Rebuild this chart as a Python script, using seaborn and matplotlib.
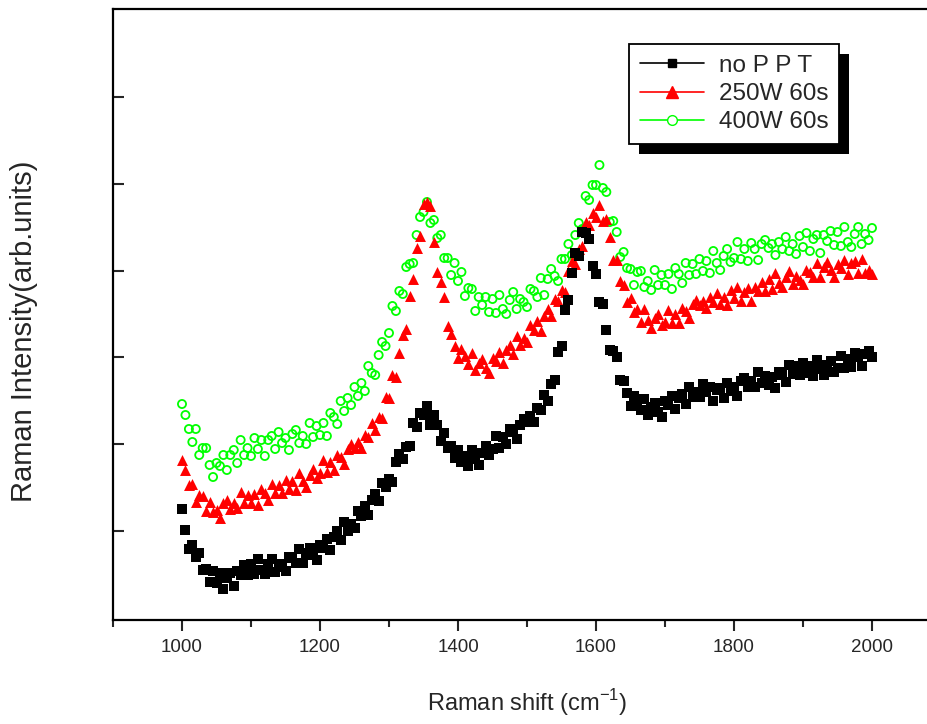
import matplotlib
matplotlib.use("Agg")
import numpy as np
import pandas as pd
import matplotlib.pyplot as plt
import seaborn as sns
from matplotlib.lines import Line2D
from matplotlib.patches import Rectangle
from matplotlib.ticker import MultipleLocator

# Raman shift axis, 5 cm-1 step
shift = list(range(1000, 2001, 5))

# intensities (arb. units)
no_ppt = [111, 90, 71, 75, 63, 67, 50, 51, 38, 49,
          37, 47, 31, 42, 47, 34, 49, 45, 55, 45,
          56, 46, 61, 50, 46, 56, 61, 48, 56, 53,
          49, 63, 62, 57, 71, 57, 67, 72, 65, 60,
          75, 72, 81, 70, 83, 89, 80, 98, 89, 96,
          92, 109, 104, 114, 105, 120, 126, 119, 137, 133,
          141, 138, 158, 166, 161, 173, 174, 197, 193, 207,
          205, 214, 195, 205, 195, 179, 187, 172, 174, 162,
          170, 158, 164, 154, 170, 161, 155, 167, 174, 165,
          171, 184, 172, 183, 176, 191, 188, 181, 195, 201,
          198, 204, 198, 212, 210, 225, 219, 236, 240, 268,
          274, 310, 320, 347, 367, 364, 388, 387, 381, 354,
          346, 318, 316, 290, 270, 269, 263, 240, 239, 227,
          214, 224, 218, 210, 221, 205, 213, 217, 208, 203,
          219, 215, 224, 211, 222, 226, 216, 233, 223, 228,
          223, 236, 228, 233, 219, 230, 232, 222, 237, 229,
          233, 224, 239, 242, 233, 239, 233, 248, 237, 244,
          235, 243, 232, 248, 245, 238, 255, 246, 254, 245,
          257, 247, 254, 244, 260, 251, 245, 255, 259, 248,
          252, 264, 252, 261, 253, 267, 263, 254, 266, 269,
          263]

w250_60s = [160, 150, 135, 136, 118, 125, 124, 109, 118, 108,
            110, 102, 117, 120, 111, 117, 112, 128, 117, 125,
            117, 126, 115, 131, 127, 120, 136, 127, 135, 127,
            140, 131, 139, 130, 147, 139, 133, 145, 151, 142,
            147, 160, 148, 158, 150, 165, 163, 156, 171, 176,
            172, 178, 172, 185, 183, 197, 190, 203, 202, 223,
            222, 245, 243, 267, 285, 291, 324, 341, 372, 384,
            416, 418, 414, 378, 348, 338, 323, 294, 286, 274,
            262, 271, 264, 256, 267, 250, 257, 261, 252, 247,
            262, 259, 268, 257, 270, 275, 266, 284, 275, 282,
            278, 295, 290, 299, 289, 304, 311, 304, 321, 319,
            330, 328, 349, 359, 356, 371, 374, 398, 395, 407,
            403, 415, 399, 401, 383, 360, 360, 339, 335, 318,
            322, 308, 311, 298, 311, 300, 292, 302, 306, 295,
            298, 310, 297, 306, 297, 312, 309, 302, 316, 320,
            315, 319, 312, 323, 318, 327, 316, 323, 315, 330,
            322, 333, 319, 328, 332, 319, 333, 329, 338, 329,
            341, 331, 347, 337, 333, 343, 349, 336, 344, 340,
            336, 350, 348, 343, 357, 343, 353, 358, 350, 343,
            356, 352, 360, 346, 357, 359, 347, 361, 347, 350,
            346]

w400_60s = [216, 205, 191, 178, 191, 165, 172, 172, 155, 143,
            157, 154, 165, 150, 165, 170, 157, 180, 165, 172,
            164, 182, 171, 180, 164, 180, 184, 171, 188, 177,
            182, 170, 186, 190, 177, 184, 176, 197, 183, 194,
            185, 197, 184, 207, 203, 196, 219, 209, 222, 215,
            233, 224, 237, 229, 254, 247, 245, 265, 278, 274,
            287, 314, 309, 329, 326, 353, 356, 357, 385, 403,
            408, 418, 397, 400, 382, 385, 362, 362, 345, 357,
            339, 348, 324, 332, 331, 309, 323, 315, 323, 308,
            321, 307, 325, 311, 306, 320, 328, 311, 321, 318,
            313, 331, 329, 323, 342, 325, 341, 351, 344, 339,
            361, 361, 376, 365, 385, 397, 391, 424, 420, 435,
            435, 455, 432, 428, 398, 399, 388, 363, 368, 352,
            351, 335, 348, 349, 333, 339, 330, 350, 335, 345,
            335, 346, 331, 352, 346, 337, 357, 345, 356, 346,
            361, 349, 359, 347, 369, 357, 350, 364, 371, 358,
            362, 378, 361, 371, 359, 377, 371, 360, 376, 380,
            372, 376, 365, 378, 371, 383, 369, 376, 366, 384,
            373, 387, 369, 381, 385, 367, 385, 379, 389, 375,
            388, 374, 393, 378, 373, 386, 393, 376, 386, 380,
            392]

labels = ["no P P T", "250W 60s", "400W 60s"]
colors = ["black", "#ff0000", "#00ff00"]

sns.set_style("ticks")
plt.rcParams["font.family"] = ["Liberation Sans", "DejaVu Sans"]

fig = plt.figure(figsize=(9.28, 7.24), dpi=100)
ax = fig.add_axes([113 / 928, 104 / 724, 828 / 928, 611 / 724])

df = pd.DataFrame({"shift": shift, "a": no_ppt, "b": w250_60s, "c": w400_60s})

sns.scatterplot(data=df, x="shift", y="a", marker="s", s=42, color=colors[0],
                edgecolor=colors[0], linewidth=0, ax=ax, zorder=3)
sns.scatterplot(data=df, x="shift", y="b", marker="^", s=62, color=colors[1],
                edgecolor=colors[1], linewidth=0, ax=ax, zorder=2)
sns.scatterplot(data=df, x="shift", y="c", marker="o", s=34, facecolor="none",
                edgecolor=colors[2], linewidth=1.3, ax=ax, zorder=1)

ax.set_xlim(900, 2100)
ax.set_ylim(0, 611)
ax.xaxis.set_major_locator(MultipleLocator(200))
ax.xaxis.set_minor_locator(MultipleLocator(100))
ax.set_yticks([89, 176, 263, 349, 436, 523])
ax.set_yticklabels([])
ax.tick_params(axis="x", which="major", direction="out", length=8, width=1.5,
               labelsize=13.5, pad=6)
ax.tick_params(axis="x", which="minor", direction="out", length=5, width=1.5)
ax.tick_params(axis="y", direction="in", length=8, width=1.5)
for sp in ax.spines.values():
    sp.set_linewidth(1.6)
    sp.set_color("black")

ax.set_xlabel("Raman shift (cm$^{\\mathregular{-1}}$)", fontsize=17, labelpad=22)
ax.set_ylabel("Raman Intensity(arb.units)", fontsize=21)
ax.yaxis.set_label_coords(-0.091, 0.473)

handles = [Line2D([], [], color=c, marker=m, markersize=ms, lw=1.2,
                  markerfacecolor=fc, markeredgecolor=c)
           for c, m, ms, fc in zip(colors, ["s", "^", "o"], [6, 8, 7],
                                   ["black", "#ff0000", "white"])]
leg = fig.legend(handles, labels, loc="upper left", bbox_to_anchor=(629 / 928, 1 - 44 / 724),
                 borderaxespad=0, frameon=True, fancybox=False, framealpha=1,
                 facecolor="white", fontsize=17.5, handlelength=2.65,
                 handletextpad=0.6, labelspacing=0.25, borderpad=0.45)
leg.get_frame().set_edgecolor("black")
leg.get_frame().set_linewidth(1.3)
leg.set_zorder(5)

# Origin-style drop shadow under the legend box
fig.canvas.draw()
bb = leg.get_window_extent().transformed(fig.transFigure.inverted())
fig.patches.append(Rectangle((bb.x0 + 10 / 928, bb.y0 - 10 / 724), bb.width, bb.height,
                             transform=fig.transFigure, facecolor="black",
                             edgecolor="none", zorder=4))

fig.savefig("out.png", dpi=100)
